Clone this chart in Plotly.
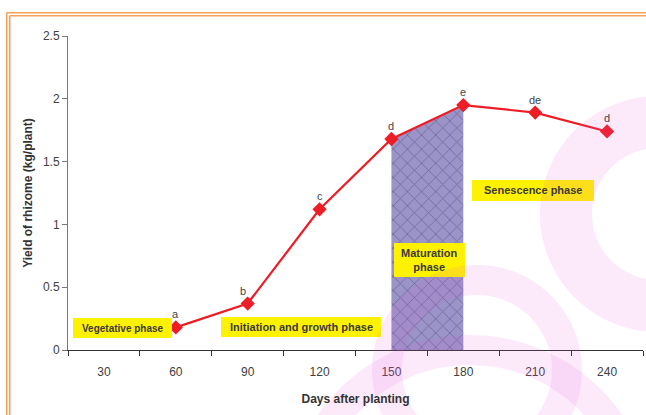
import numpy as np
import plotly.graph_objects as go

# Categories and measured yield per plant
days = ["30", "60", "90", "120", "150", "180", "210", "240"]
obs_days = ["60", "90", "120", "150", "180", "210", "240"]
yield_kg = [0.18, 0.37, 1.12, 1.68, 1.95, 1.89, 1.74]
sig_letters = ["a", "b", "c", "d", "e", "de", "d"]

# Maturation window (shaded under the curve)
mat_days = ["150", "180"]
mat_yield = [1.68, 1.95]

FONT = "Liberation Sans, Arial, sans-serif"
W, H = 646, 415
ML, MR, MT, MB = 68, 3, 36, 65
PW, PH = W - ML - MR, H - MT - MB


def px(x):
    return (x - ML) / PW


def py(y):
    return (H - MB - y) / PH


fig = go.Figure()

fig.add_trace(go.Scatter(
    x=mat_days, y=mat_yield, mode="none", fill="tozeroy",
    fillcolor="#9a94c8",
    fillpattern=dict(shape="x", fgcolor="#443e66", bgcolor="#9a94c8",
                     size=10, solidity=0.16),
    hoverinfo="skip", showlegend=False,
))

fig.add_trace(go.Scatter(
    x=obs_days, y=yield_kg, mode="lines+markers",
    line=dict(color="#ee1c25", width=2.2),
    marker=dict(symbol="diamond", size=11, color="#ee1c25"),
    showlegend=False,
))

# significance letters above each point (annotation x uses category index)
for d, v, s in zip(obs_days, yield_kg, sig_letters):
    fig.add_annotation(x=days.index(d), y=v, text=s, showarrow=False,
                       yshift=13, xshift=-5 if s == "b" else 0,
                       xanchor="center", yanchor="middle",
                       font=dict(family=FONT, size=11, color="#444444"))

shapes = []

# phase label boxes
phases = [
    ("Vegetative phase", 73, 318, 172, 338, 10),
    ("Initiation and growth phase", 221, 317, 381, 337, 11),
    ("Maturation<br>phase", 394, 243, 465, 277, 11),
    ("Senescence phase", 472, 180, 594, 201, 11),
]
for text, x0, y0, x1, y1, fs in phases:
    shapes.append(dict(type="rect", xref="paper", yref="paper",
                       x0=px(x0), x1=px(x1), y0=py(y1), y1=py(y0),
                       fillcolor="#fff200", line=dict(width=0), layer="above"))
    fig.add_annotation(xref="paper", yref="paper",
                       x=px((x0 + x1) / 2), y=py((y0 + y1) / 2),
                       xanchor="center", yanchor="middle",
                       text=f"<b>{text}</b>", showarrow=False,
                       font=dict(family=FONT, size=fs, color="#3a3a3a"))


# faint pink logo rings drawn over the chart
def ring_path(cx, cy, ro, ri, n=120):
    t = np.linspace(0, 2 * np.pi, n)
    outer = [(cx + ro * np.cos(a), cy + ro * np.sin(a)) for a in t]
    inner = [(cx + ri * np.cos(a), cy + ri * np.sin(a)) for a in t[::-1]]
    def seg(pts):
        s = "M " + " L ".join(f"{px(x):.4f},{py(y):.4f}" for x, y in pts)
        return s + " Z"
    return seg(outer) + " " + seg(inner)


for cx, cy, ro, ri in [(658, 214, 118, 66), (477, 370, 105, 75),
                       (470, 520, 185, 155)]:
    shapes.append(dict(type="path", xref="paper", yref="paper",
                       path=ring_path(cx, cy, ro, ri),
                       fillcolor="rgba(230,80,220,0.12)",
                       line=dict(width=0), layer="above", fillrule="evenodd"))

# orange double frame
ORANGE = "#f4a259"
for off in (6.7, 9.7):
    shapes.append(dict(type="line", xref="paper", yref="paper",
                       x0=px(off), x1=px(off), y0=py(off + 6), y1=py(H + 5),
                       line=dict(color=ORANGE, width=1.6)))
    shapes.append(dict(type="line", xref="paper", yref="paper",
                       x0=px(off), x1=px(W + 5), y0=py(off + 6), y1=py(off + 6),
                       line=dict(color=ORANGE, width=1.6)))

fig.update_layout(
    width=W, height=H,
    margin=dict(l=ML, r=MR, t=MT, b=MB, autoexpand=False),
    paper_bgcolor="white", plot_bgcolor="white",
    font=dict(family=FONT, size=12, color="#333333"),
    shapes=shapes,
    xaxis=dict(
        type="category", categoryorder="array", categoryarray=days,
        range=[-0.5, 7.5], tickson="boundaries", automargin=False,
        ticks="outside", ticklen=5, tickcolor="#333333",
        ticklabelstandoff=11,
        showline=True, linecolor="#333333", linewidth=1,
        showgrid=False, zeroline=False,
        tickfont=dict(family=FONT, size=12, color="#404040"),
        title=dict(text="<b>Days after planting</b>", standoff=16,
                   font=dict(family=FONT, size=12, color="#333333")),
    ),
    yaxis=dict(
        range=[0, 2.5], dtick=0.5, automargin=False,
        ticks="outside", ticklen=5, tickcolor="#777777",
        showline=True, linecolor="#777777", linewidth=1,
        showgrid=False, zeroline=False,
        tickfont=dict(family=FONT, size=12, color="#404040"),
        title=dict(text="<b>Yield of rhizome (kg/plant)</b>", standoff=7,
                   font=dict(family=FONT, size=12, color="#333333")),
    ),
)

fig.write_html("out.html")
